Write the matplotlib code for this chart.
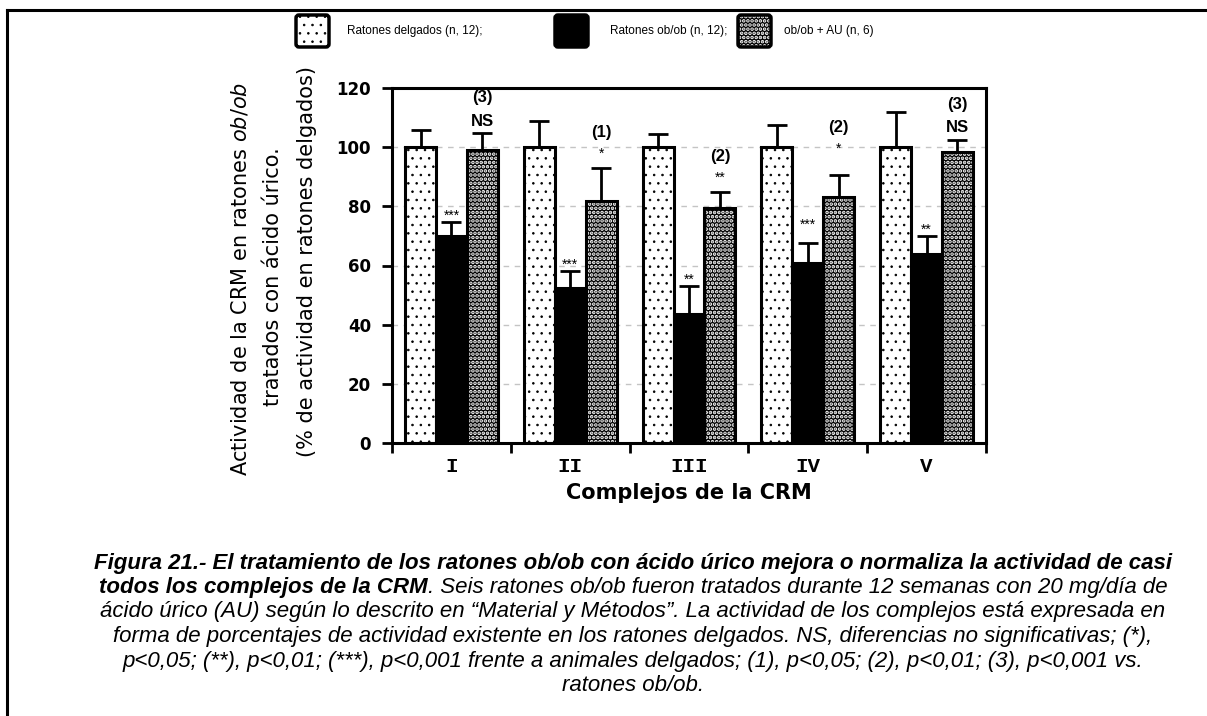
import numpy as np
import matplotlib.pyplot as plt
from matplotlib.patches import FancyBboxPatch
from matplotlib.lines import Line2D

# datos de actividad (% respecto a ratones delgados)
complejos = ['I', 'II', 'III', 'IV', 'V']
delgados = [100, 100, 100, 100, 100]
delgados_err = [5.7, 8.7, 4.5, 7.4, 11.8]
obob = [70, 52.5, 43.5, 61, 64]
obob_err = [4.8, 5.7, 9.6, 6.6, 5.9]
au = [99, 81.8, 79.5, 83, 98.5]
au_err = [5.8, 11, 5.4, 7.6, 4]

obob_sig = ['***', '***', '**', '***', '**']
au_sig = ['NS', '*', '**', '*', 'NS']
au_vs_obob = ['(3)', '(1)', '(2)', '(2)', '(3)']

leyenda = ['Ratones delgados (n, 12);', 'Ratones ob/ob (n, 12);', 'ob/ob + AU (n, 6)']

pie_lineas = [
    'Figura 21.- El tratamiento de los ratones ob/ob con ácido úrico mejora o normaliza la actividad de casi',
    ('todos los complejos de la CRM', '. Seis ratones ob/ob fueron tratados durante 12 semanas con 20 mg/día de'),
    'ácido úrico (AU) según lo descrito en “Material y Métodos”. La actividad de los complejos está expresada en',
    'forma de porcentajes de actividad existente en los ratones delgados. NS, diferencias no significativas; (*),',
    'p<0,05; (**), p<0,01; (***), p<0,001 frente a animales delgados; (1), p<0,05; (2), p<0,01; (3), p<0,001 vs.',
    'ratones ob/ob.',
]

W, H = 1207, 716
plt.rcParams['font.family'] = 'DejaVu Sans'
plt.rcParams['mathtext.fontset'] = 'custom'
plt.rcParams['mathtext.it'] = 'DejaVu Sans:italic'
plt.rcParams['hatch.linewidth'] = 0.6

fig = plt.figure(figsize=(W / 100, H / 100), dpi=100)

# capa en pixeles para marco, leyenda y pie
bg = fig.add_axes([0, 0, 1, 1])
bg.set_xlim(0, W)
bg.set_ylim(H, 0)
bg.axis('off')


def px_axes(x0, y0, x1, y1):
    return [x0 / W, 1 - y1 / H, (x1 - x0) / W, (y1 - y0) / H]


def grosor_trama(patches, lw_trama):
    for p in patches:
        if hasattr(p, 'set_hatch_linewidth'):
            p.set_hatch_linewidth(lw_trama)


ax = fig.add_axes(px_axes(392, 88, 986, 443))

x = np.arange(len(complejos))
w = 0.26
lw = 2.2

b1 = ax.bar(x - w, delgados, w, color='white', edgecolor='black', hatch='..', linewidth=lw, zorder=2)
grosor_trama(b1, 0.6)
ax.bar(x, obob, w, color='black', edgecolor='black', linewidth=lw, zorder=2)
# relleno negro con puntos blancos y contorno negro encima
b3 = ax.bar(x + w, au, w, color='black', edgecolor='white', hatch='....', linewidth=0, zorder=2)
grosor_trama(b3, 1.8)
ax.bar(x + w, au, w, fill=False, edgecolor='black', linewidth=lw, zorder=2.5)

ceros = np.zeros(len(x))
for xs, vals, err in [(x - w, delgados, delgados_err), (x, obob, obob_err), (x + w, au, au_err)]:
    ax.errorbar(xs, vals, yerr=[ceros, err], fmt='none', ecolor='black',
                elinewidth=2, capsize=7, capthick=2, zorder=3)

# anotaciones de significacion (el complejo IV lleva las marcas algo mas altas)
extra = [0, 0, 0, 4, 0]
for i in range(len(x)):
    tope = obob[i] + obob_err[i] + extra[i]
    ax.text(x[i], tope + 0.8, obob_sig[i], ha='center', va='baseline',
            fontsize=10, family='Liberation Sans', zorder=4)
    tope = au[i] + au_err[i] + extra[i]
    if au_sig[i] == 'NS':
        ax.text(x[i] + w, tope + 1.5, au_sig[i], ha='center', va='bottom',
                fontsize=12, fontweight='bold', family='Liberation Sans')
    else:
        ax.text(x[i] + w, tope + 3.5, au_sig[i], ha='center', va='baseline',
                fontsize=10, family='Liberation Sans')
    ax.text(x[i] + w, tope + 9.5, au_vs_obob[i], ha='center', va='bottom',
            fontsize=12, fontweight='bold', family='Liberation Sans')

ax.set_xlim(-0.5, len(x) - 0.5)
ax.set_ylim(0, 120)
ax.set_yticks(np.arange(0, 121, 20))
ax.set_yticklabels([str(v) for v in range(0, 121, 20)], fontsize=12, fontweight='bold')
ax.set_xticks(np.arange(-0.5, len(x)), labels=[''] * (len(x) + 1))
ax.set_xticks(x, labels=complejos, minor=True)
ax.tick_params(axis='x', which='minor', length=0, pad=10, labelsize=15)
for t in ax.get_xticklabels(minor=True):
    t.set_family('Liberation Mono')
    t.set_fontweight('bold')
ax.tick_params(axis='both', which='major', direction='out', length=7, width=2)
ax.tick_params(axis='y', pad=8)
for s in ax.spines.values():
    s.set_linewidth(2.2)

for v in range(20, 101, 20):
    ax.axhline(v, color='#c4c4c4', linewidth=1, linestyle=(0, (4, 4)), zorder=0)

ax.set_xlabel('Complejos de la CRM', fontsize=15, fontweight='bold', labelpad=5)

# titulo del eje y en tres lineas
fig.text(240 / W, 1 - 279 / H, 'Actividad de la CRM en ratones $ob/ob$', rotation=90,
         ha='center', va='center', fontsize=15)
fig.text(273 / W, 1 - 277 / H, 'tratados con ácido úrico.', rotation=90,
         ha='center', va='center', fontsize=15)
fig.text(307 / W, 1 - 262 / H, '(% de actividad en ratones delgados)', rotation=90,
         ha='center', va='center', fontsize=15)

# marco exterior
bg.add_line(Line2D([7, W], [10, 10], color='black', linewidth=2.2))
bg.add_line(Line2D([7, 7], [10, H], color='black', linewidth=2.2))

# leyenda
cajas_x = [296, 555, 738]
textos_x = [347, 610, 784]
estilos = [dict(facecolor='white', edgecolor='black', hatch='..', linewidth=2.5),
           dict(facecolor='black', edgecolor='black', linewidth=2.5),
           dict(facecolor='black', edgecolor='white', hatch='....', linewidth=0)]
for cx, tx, est, lab in zip(cajas_x, textos_x, estilos, leyenda):
    caja = FancyBboxPatch((cx, 15), 33, 32, boxstyle='round,pad=0,rounding_size=3', **est)
    bg.add_patch(caja)
    if est['edgecolor'] == 'white':
        grosor_trama([caja], 1.8)
        bg.add_patch(FancyBboxPatch((cx, 15), 33, 32, boxstyle='round,pad=0,rounding_size=3',
                                    fill=False, edgecolor='black', linewidth=2.5))
    else:
        grosor_trama([caja], 0.6)
    bg.text(tx, 31, lab, ha='left', va='center', fontsize=8.5, family='Liberation Sans')

# pie de figura
y0, paso, xc = 563, 24.5, 633
renderer = fig.canvas.get_renderer()
for k, linea in enumerate(pie_lineas):
    yy = y0 + k * paso
    if isinstance(linea, tuple):
        a = bg.text(0, yy, linea[0], ha='left', va='center', fontsize=16,
                    family='Liberation Sans', style='italic', fontweight='bold')
        b = bg.text(0, yy, linea[1], ha='left', va='center', fontsize=16,
                    family='Liberation Sans', style='italic')
        wa = a.get_window_extent(renderer).width
        wb = b.get_window_extent(renderer).width
        xi = xc - (wa + wb) / 2
        a.set_x(xi)
        b.set_x(xi + wa)
    else:
        peso = 'bold' if k == 0 else 'normal'
        bg.text(xc, yy, linea, ha='center', va='center', fontsize=16,
                family='Liberation Sans', style='italic', fontweight=peso)

fig.savefig('out.png', dpi=100)
